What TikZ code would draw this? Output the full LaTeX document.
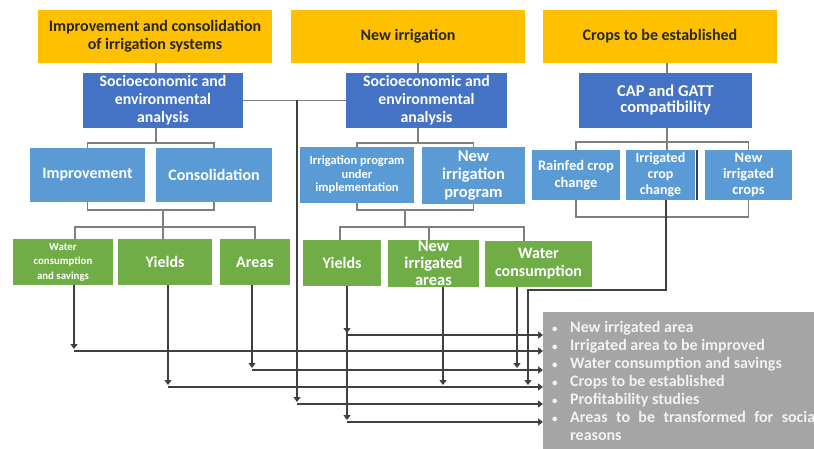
\documentclass[tikz,border=0pt]{standalone}
\usepackage{fontspec}
\setmainfont{Carlito}
\usetikzlibrary{arrows.meta,calc}
\definecolor{gold}{HTML}{FFC000}
\definecolor{navy}{HTML}{4472C4}
\definecolor{sky}{HTML}{5B9BD5}
\definecolor{leaf}{HTML}{70AD47}
\definecolor{ash}{HTML}{A5A5A5}
\definecolor{wire}{HTML}{7F7F7F}
\definecolor{ink}{HTML}{404040}
\newcommand\sumitem[1]{\hangindent=18pt\hangafter=1\noindent\makebox[18pt][l]{\fontsize{11}{11}\selectfont\textbullet}#1\par}
\begin{document}
\begin{tikzpicture}[x=1pt,y=-1pt,
        panel/.style 2 args={inner sep=0pt,align=center,text=white,minimum width=#1pt,minimum height=#2pt},
        fs/.style 2 args={font=\fontsize{#1}{#2}\selectfont\bfseries},
        goal/.style={fill=gold,text=black!85,fs={16}{18}},
        wire/.style={draw=wire,line width=1.5pt},
        flow/.style={draw=ink,line width=1.5pt,-{Triangle[length=5pt,width=7pt]}}]
    \useasboundingbox (0,0) rectangle (814,449);
    \clip (0,0) rectangle (814,449);
    \fill[white] (0,0) rectangle (814,449);

    \node[panel={234}{53},goal] (O1) at (155,36.5) {Improvement and consolidation\\of irrigation systems};
    \node[panel={234}{53},goal] (O2) at (408,36.5) {New irrigation};
    \node[panel={234}{53},goal] (O3) at (660,36.5) {Crops to be established};

    \node[panel={160}{55},fill=navy,fs={15.8}{18}] (B1) at (163,100.5) {Socioeconomic and\\environmental\\analysis};
    \node[panel={161}{55},fill=navy,fs={15.8}{18}] (B2) at (426.5,100.5) {Socioeconomic and\\environmental\\analysis};
    \node[panel={173}{55},fill=navy,fs={16.5}{16}] (B3) at (665.5,100.5) {CAP and GATT\\compatibility};

    \node[panel={115}{54},fill=sky,fs={16}{18}] (L1) at (87.5,175) {Improvement};
    \node[panel={116}{54},fill=sky,fs={16}{18}] (L2) at (214,175) {Consolidation};
    \node[panel={114}{56},fill=sky,fs={12.5}{13.5}] (L3) at (357,175) {Irrigation program\\under\\implementation};
    \node[panel={103}{57},fill=sky,fs={16.5}{18}] (L4) at (473.5,175.5) {New\\irrigation\\program};
    \node[panel={88}{50},fill=sky,fs={14.5}{16.5}] (L5) at (576,175) {Rainfed crop\\change};
    \node[panel={69}{50},fill=sky,fs={14}{16}] (L6) at (660.5,175) {Irrigated\\crop\\change};
    \node[panel={87}{50},fill=sky,fs={14.5}{16}] (L7) at (748.5,175) {New\\irrigated\\crops};

    \node[panel={100}{46},fill=leaf,fs={10.8}{14.5}] (G1) at (63,262) {Water\\consumption\\and savings};
    \node[panel={94}{46},fill=leaf,fs={16}{18}] (G2) at (165,262) {Yields};
    \node[panel={70}{46},fill=leaf,fs={16}{18}] (G3) at (255,262) {Areas};
    \node[panel={78}{46},fill=leaf,fs={16}{18}] (G4) at (342,263) {Yields};
    \node[panel={91}{47},fill=leaf,label={[text=white,align=center,fs={16.5}{17}]center:{New\\irrigated\\areas}}] (G5) at (433.5,263.5) {};
    \node[panel={107}{46},fill=leaf,fs={16}{18}] (G6) at (538.5,264) {Water\\consumption};

    \node[anchor=north west,fill=ash,text=white!95!black,text width=267pt,inner xsep=9pt,inner ysep=9pt,
        align=justify,fs={16}{18}] (sum) at (543,312) {%
        \hyphenpenalty=10000\exhyphenpenalty=10000
        \sumitem{New irrigated area}
        \sumitem{Irrigated area to be improved}
        \sumitem{Water consumption and savings}
        \sumitem{Crops to be established}
        \sumitem{Profitability studies}
        \sumitem{Areas to be transformed for social reasons}};

    \draw[ink,line width=1.5pt] ([xshift=2pt]L6.north east) -- ([xshift=2pt]L6.south east);

    \coordinate (s1) at (156,143);
    \coordinate (s2) at (418,143);
    \coordinate (s3) at (667,142);
    \foreach \o/\b/\s in {O1/B1/s1, O2/B2/s2, O3/B3/s3} {
        \draw[wire] (\o.south -| \s) -- (\b.north -| \s);
        \draw[wire] (\b.south -| \s) -- (\s);
    }
    \foreach \s/\n in {s1/L1, s1/L2, s2/L3, s2/L4, s3/L5, s3/L7}
        \draw[wire] (\s) -| (\n.north);
    \draw[wire] (s3) -- (L6.north -| s3);

    \coordinate (t1) at (163,210);
    \coordinate (t2) at (405,210);
    \coordinate (t3) at (666,217);
    \coordinate (u1) at (163,227);
    \coordinate (u2) at (405,227);
    \foreach \n/\t in {L1/t1, L2/t1, L3/t2, L4/t2, L5/t3, L7/t3}
        \draw[wire] (\n.south) |- (\t);
    \draw[wire] (t1) -- (G2.north -| t1);
    \draw[wire] (t2) -- (u2);
    \foreach \u/\g/\dx in {u1/G1/12, u1/G3/0, u2/G4/-2, u2/G5/-4.5, u2/G6/-14.5}
        \draw[wire] (\u) -| ($(\g.north)+(\dx,0)$);

    \draw[wire] (B1.east) -- (B2.west);
    \coordinate (tap) at (297,100.5);

    \foreach \y [count=\i] in {335,351,370,387,404,422}
        \coordinate (r\i) at (543,\y);

    \coordinate (bend) at (666,290);
    \draw[flow] (L6.south -| t3) -- (bend) -| ($(r4)+(-15,-2)$);

    \path ($(G1.south)+(11,0)$) coordinate (d1)
          ($(G2.south)+(3,0)$) coordinate (d2)
          ($(G3.south)+(-3,0)$) coordinate (d3)
          ($(G4.south)+(5,0)$) coordinate (d4)
          ($(G5.south)+(9.5,0)$) coordinate (d5)
          ($(G6.south)+(-21.5,0)$) coordinate (d6);
    \foreach \d/\r in {d1/r2, d2/r4, d3/r3, tap/r5, d4/r1, d4/r6, d5/r4, d6/r3}
        \draw[flow] (\d) -- ($(\d |- \r)+(0,-2)$);
    \foreach \d/\r in {d4/r1, d1/r2, d3/r3, d2/r4, tap/r5, d4/r6}
        \draw[flow] (\d |- \r) -- (\r);
\end{tikzpicture}
\end{document}
